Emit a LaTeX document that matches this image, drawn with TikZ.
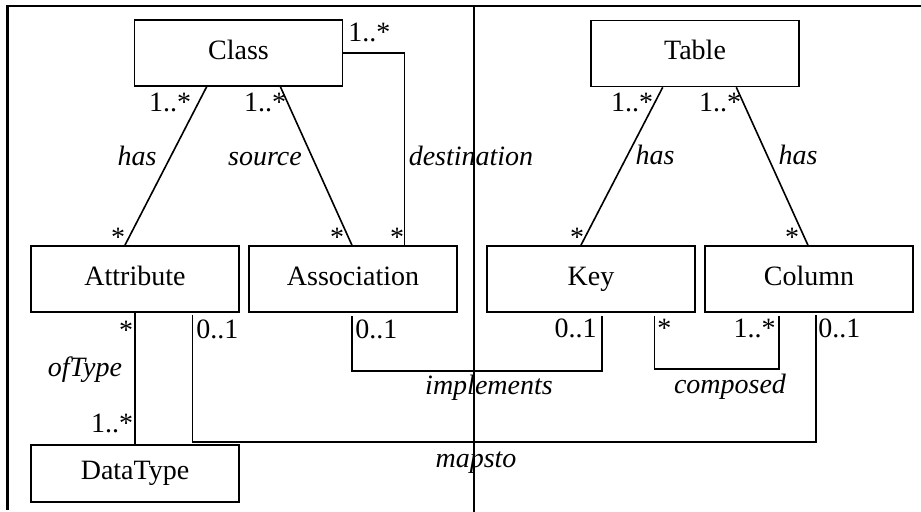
\documentclass[tikz,border=0pt]{standalone}
\usepackage{fontspec}
\setmainfont{Liberation Serif}
\usetikzlibrary{calc}
\begin{document}
\begin{tikzpicture}[x={(0.5pt,0)},y={(0,-0.5pt)},
  every node/.style={font=\fontsize{14pt}{16pt}\selectfont},
  box/.style={draw,line width=0.8pt,minimum width=104pt,minimum height=33pt,inner sep=0pt,text height=9.5pt,text depth=3pt},
  conn/.style={line width=0.8pt},
  frame/.style={line width=1.1pt},
  lab/.style={anchor=base,inner sep=0pt},
  rel/.style={lab,font=\fontsize{14pt}{16pt}\selectfont\itshape}]
\useasboundingbox (0,0) rectangle (921,512);
% frame
\coordinate (fTL) at (7.5,6);
\coordinate (fBL) at (7.5,510);
\coordinate (fTR) at (921,6);
\coordinate (dT) at (474,6);
\coordinate (dB) at (474,512);
\draw[frame] (fBL) -- (fTL) -- (fTR);
\draw[frame] (dT) -- (dB);
% boxes
\node[box] (Class) at (238.5,53) {Class};
\node[box] (Table) at (695,53.5) {Table};
\node[box] (Attr) at (135,279) {Attribute};
\node[box] (Assoc) at (353,279) {Association};
\node[box] (Key) at (591,279) {Key};
\node[box] (Column) at (809,279) {Column};
\node[box,minimum height=28.5pt] (DataType) at (135,473.5) {DataType};
% connector points
\coordinate (c1) at ($(Class.south west)!0.348!(Class.south east)$);
\coordinate (a1) at ($(Attr.north west)!0.452!(Attr.north east)$);
\coordinate (c2) at ($(Class.south west)!0.70!(Class.south east)$);
\coordinate (s2) at ($(Assoc.north west)!0.495!(Assoc.north east)$);
\coordinate (s3) at ($(Assoc.north west)!0.745!(Assoc.north east)$);
\coordinate (t1) at ($(Table.south west)!0.346!(Table.south east)$);
\coordinate (k1) at ($(Key.north west)!0.452!(Key.north east)$);
\coordinate (t2) at ($(Table.south west)!0.697!(Table.south east)$);
\coordinate (col1) at ($(Column.north west)!0.495!(Column.north east)$);
\coordinate (mA) at ($(Attr.south west)!0.774!(Attr.south east)$);
\coordinate (mC) at ($(Column.south west)!0.534!(Column.south east)$);
\coordinate (iA) at ($(Assoc.south west)!0.495!(Assoc.south east)$);
\coordinate (iK) at ($(Key.south west)!0.553!(Key.south east)$);
\coordinate (kK) at ($(Key.south west)!0.803!(Key.south east)$);
\coordinate (kC) at ($(Column.south west)!0.356!(Column.south east)$);
% connectors
\draw[conn] (c1) -- (a1);
\draw[conn] (c2) -- (s2);
\draw[conn] (Class.east) -| (s3);
\draw[conn] (t1) -- (k1);
\draw[conn] (t2) -- (col1);
\draw[conn] (Attr.south) -- (DataType.north);
\draw[conn] ([yshift=-1pt]mA) -- ++(0,127) -| ([yshift=-1pt]mC);
\draw[conn] ([yshift=-1.5pt]iA) -- ++(0,55) -| ([yshift=-1.5pt]iK);
\draw[conn] ([yshift=-1.5pt]kK) -- ++(0,53) -| ([yshift=-1.5pt]kC);
% multiplicities (top)
\node[lab,anchor=base west] (m1) at (348,42) {1..*};
\node[lab] (m2) at (170,112) {1..*};
\node[lab] (m3) at (265,112) {1..*};
\node[lab] (m4) at (118,247) {*};
\node[lab] (m5) at (337,247) {*};
\node[lab] (m6) at (397,247) {*};
\node[lab] (m7) at (632,112) {1..*};
\node[lab] (m8) at (720,112) {1..*};
\node[lab] (m9) at (577,247) {*};
\node[lab] (m10) at (792,247) {*};
% relation names (top)
\node[rel] (r1) at (137,166) {has};
\node[rel] (r2) at (265,166) {source};
\node[rel] (r3) at (471,166) {destination};
\node[rel] (r4) at (655,165) {has};
\node[rel] (r5) at (798,165) {has};
% bottom labels
\node[lab] (m11) at (126,340) {*};
\node[rel] (r6) at (85,377) {ofType};
\node[lab] (m12) at (112,433) {1..*};
\node[lab,anchor=base west] (m13) at (196,339) {0..1};
\node[lab,anchor=base west] (m14) at (355,339) {0..1};
\node[lab,anchor=base east] (m15) at (597,338) {0..1};
\node[lab,anchor=base west] (m16) at (657,338) {*};
\node[lab,anchor=base east] (m17) at (776,338) {1..*};
\node[lab,anchor=base west] (m18) at (818,338) {0..1};
\node[rel] (r7) at (489,395) {implements};
\node[rel] (r8) at (730,394) {composed};
\node[rel] (r9) at (476,468) {mapsto};
\end{tikzpicture}
\end{document}
